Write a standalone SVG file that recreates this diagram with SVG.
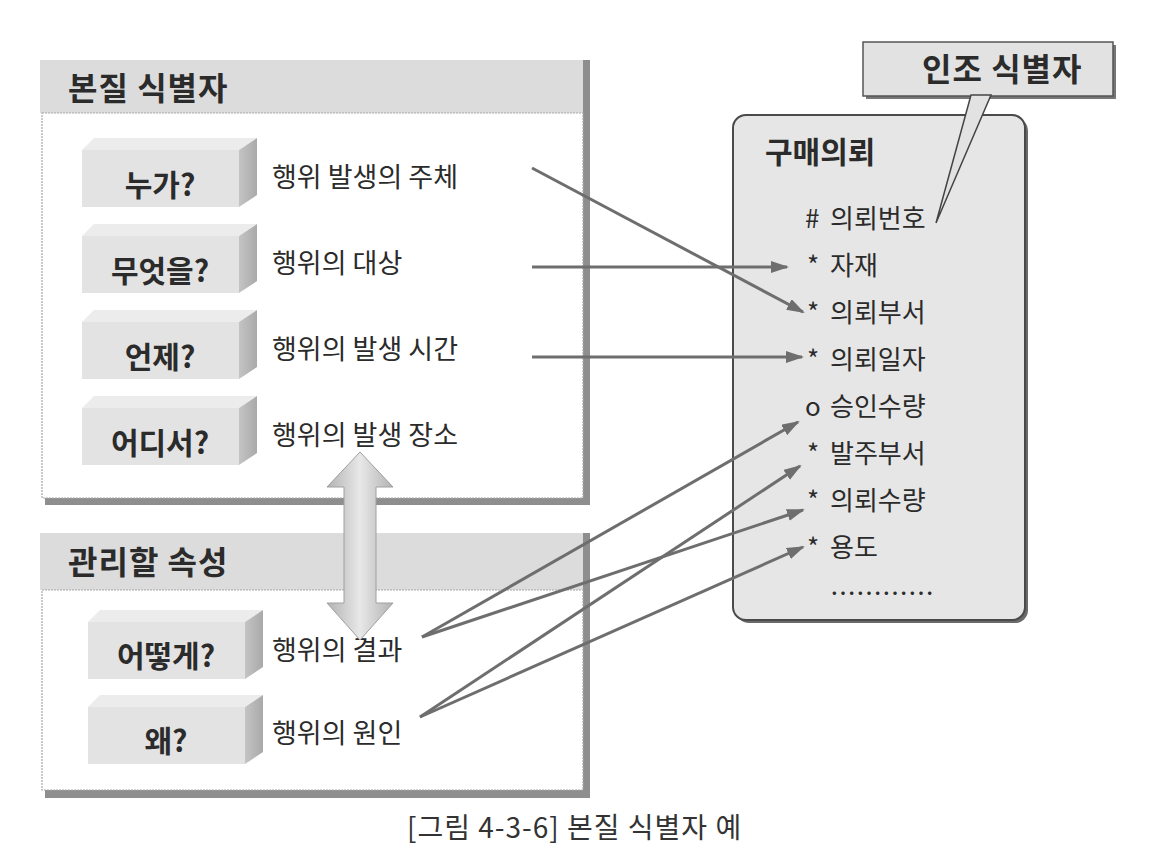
<svg xmlns="http://www.w3.org/2000/svg" width="1154" height="858" viewBox="0 0 1154 858">
<style>
  text { font-family: "Noto Sans CJK KR", "Noto Sans", sans-serif; fill: #2b2b2b; }
  .hdr { font-size: 32px; font-weight: bold; letter-spacing: 1px; }
  .blk { font-size: 30px; font-weight: bold; text-anchor: middle; }
  .lbl { font-size: 27px; }
  .itm { font-size: 26px; }
  .ttl { font-size: 30px; font-weight: bold; }
  .cap { font-size: 28px; fill: #333; letter-spacing: 1px; }
  .band { fill: #dcdcdc; }
  .body { fill: #ffffff; stroke: #a8a8a8; stroke-width: 1.2; stroke-dasharray: 2 1; }
  .shd { fill: #8e8e8e; }
  .front { fill: #e3e3e3; }
  .top { fill: #ececec; }
  .side { fill: url(#sideG); }
  .conn { stroke: #6e6e6e; stroke-width: 3; fill: none; marker-end: url(#ah); }
</style>
<defs>
  <linearGradient id="sideG" x1="0" y1="0" x2="1" y2="0">
    <stop offset="0" stop-color="#c4c4c4"/>
    <stop offset="1" stop-color="#a9a9a9"/>
  </linearGradient>
  <linearGradient id="dblG" x1="0" y1="0" x2="1" y2="0">
    <stop offset="0" stop-color="#b2b2b2"/>
    <stop offset="0.5" stop-color="#e8e8e8"/>
    <stop offset="1" stop-color="#b2b2b2"/>
  </linearGradient>
  <marker id="ah" markerUnits="userSpaceOnUse" markerWidth="20" markerHeight="14" refX="16" refY="6" orient="auto">
    <path d="M0,0 L18,6 L0,12 z" fill="#6e6e6e"/>
  </marker>
  <g id="block">
    <polygon class="top" points="0,12 12,0 175,0 157,12"/>
    <rect class="front" x="0" y="12" width="157" height="57"/>
    <polygon class="side" points="157,12 175,0 175,57 157,69"/>
  </g>
</defs>

<rect width="1154" height="858" fill="#ffffff"/>

<!-- Top panel: 본질 식별자 -->
<g id="panel-essential">
  <rect class="shd" x="45" y="498" width="545" height="7"/>
  <rect class="shd" x="583" y="60" width="7" height="445"/>
  <rect class="band" x="40" y="60" width="543" height="53"/>
  <rect class="body" x="42" y="113" width="541" height="385"/>
  <text class="hdr" x="68" y="100">본질 식별자</text>
</g>

<g id="node-who">
  <use href="#block" x="82" y="138"/>
  <text class="blk" x="160" y="196">누가?</text>
  <text class="lbl" x="272" y="187">행위 발생의 주체</text>
</g>
<g id="node-what">
  <use href="#block" x="82" y="224"/>
  <text class="blk" x="160" y="282">무엇을?</text>
  <text class="lbl" x="272" y="273">행위의 대상</text>
</g>
<g id="node-when">
  <use href="#block" x="82" y="310"/>
  <text class="blk" x="160" y="368">언제?</text>
  <text class="lbl" x="272" y="359">행위의 발생 시간</text>
</g>
<g id="node-where">
  <use href="#block" x="82" y="396"/>
  <text class="blk" x="160" y="454">어디서?</text>
  <text class="lbl" x="272" y="445">행위의 발생 장소</text>
</g>

<!-- Bottom panel: 관리할 속성 -->
<g id="panel-managed">
  <rect class="shd" x="45" y="790" width="545" height="8"/>
  <rect class="shd" x="583" y="533" width="7" height="265"/>
  <rect class="band" x="40" y="533" width="543" height="57"/>
  <rect class="body" x="42" y="590" width="541" height="200"/>
  <text class="hdr" x="68" y="574">관리할 속성</text>
</g>

<g id="node-how">
  <use href="#block" x="88" y="610"/>
  <text class="blk" x="166" y="667">어떻게?</text>
  <text class="lbl" x="272" y="660">행위의 결과</text>
</g>
<g id="node-why">
  <use href="#block" x="88" y="695"/>
  <text class="blk" x="166" y="752">왜?</text>
  <text class="lbl" x="272" y="743">행위의 원인</text>
</g>

<!-- Double arrow between panels -->
<g id="double-arrow">
  <polygon points="360,452 393,487 376,487 376,603 393,603 360,640 327,603 344,603 344,487 327,487" fill="url(#dblG)" stroke="#a0a0a0" stroke-width="1"/>
</g>

<!-- Entity: 구매의뢰 -->
<g id="entity">
  <rect x="736" y="118" width="292" height="505" rx="13" fill="#6a6a6a"/>
  <rect x="733" y="115" width="292" height="505" rx="13" fill="#e6e6e6" stroke="#4a4a4a" stroke-width="2"/>
  <text class="ttl" x="765" y="163">구매의뢰</text>
  <text class="itm" y="228"><tspan x="805">#</tspan><tspan x="830">의뢰번호</tspan></text>
  <text class="itm" y="275"><tspan x="807">*</tspan><tspan x="830">자재</tspan></text>
  <text class="itm" y="322"><tspan x="807">*</tspan><tspan x="830">의뢰부서</tspan></text>
  <text class="itm" y="369"><tspan x="807">*</tspan><tspan x="830">의뢰일자</tspan></text>
  <text class="itm" y="416"><tspan x="805">o</tspan><tspan x="830">승인수량</tspan></text>
  <text class="itm" y="463"><tspan x="807">*</tspan><tspan x="830">발주부서</tspan></text>
  <text class="itm" y="510"><tspan x="807">*</tspan><tspan x="830">의뢰수량</tspan></text>
  <text class="itm" y="557"><tspan x="807">*</tspan><tspan x="830">용도</tspan></text>
  <text class="itm" x="830" y="603">…………</text>
</g>

<!-- Callout: 인조 식별자 -->
<g id="callout">
  <rect x="866" y="45" width="250" height="54" fill="#777"/>
  <rect x="863" y="42" width="250" height="54" fill="#e2e2e2" stroke="#555" stroke-width="1.5"/>
  <polygon points="971,95 991,95 936,223" fill="#e2e2e2" stroke="#444" stroke-width="1.5"/>
  <text class="hdr" x="922" y="81">인조 식별자</text>
</g>

<!-- Connectors -->
<g id="connectors">
  <line class="conn" x1="532" y1="168" x2="803" y2="312"/>
  <line class="conn" x1="532" y1="267" x2="787" y2="267"/>
  <line class="conn" x1="532" y1="357" x2="802" y2="357"/>
  <line class="conn" x1="422" y1="637" x2="798" y2="422"/>
  <line class="conn" x1="422" y1="637" x2="803" y2="510"/>
  <line class="conn" x1="420" y1="717" x2="800" y2="466"/>
  <line class="conn" x1="420" y1="717" x2="803" y2="547"/>
</g>

<text class="cap" x="407" y="838">[그림 4-3-6] 본질 식별자 예</text>
</svg>
